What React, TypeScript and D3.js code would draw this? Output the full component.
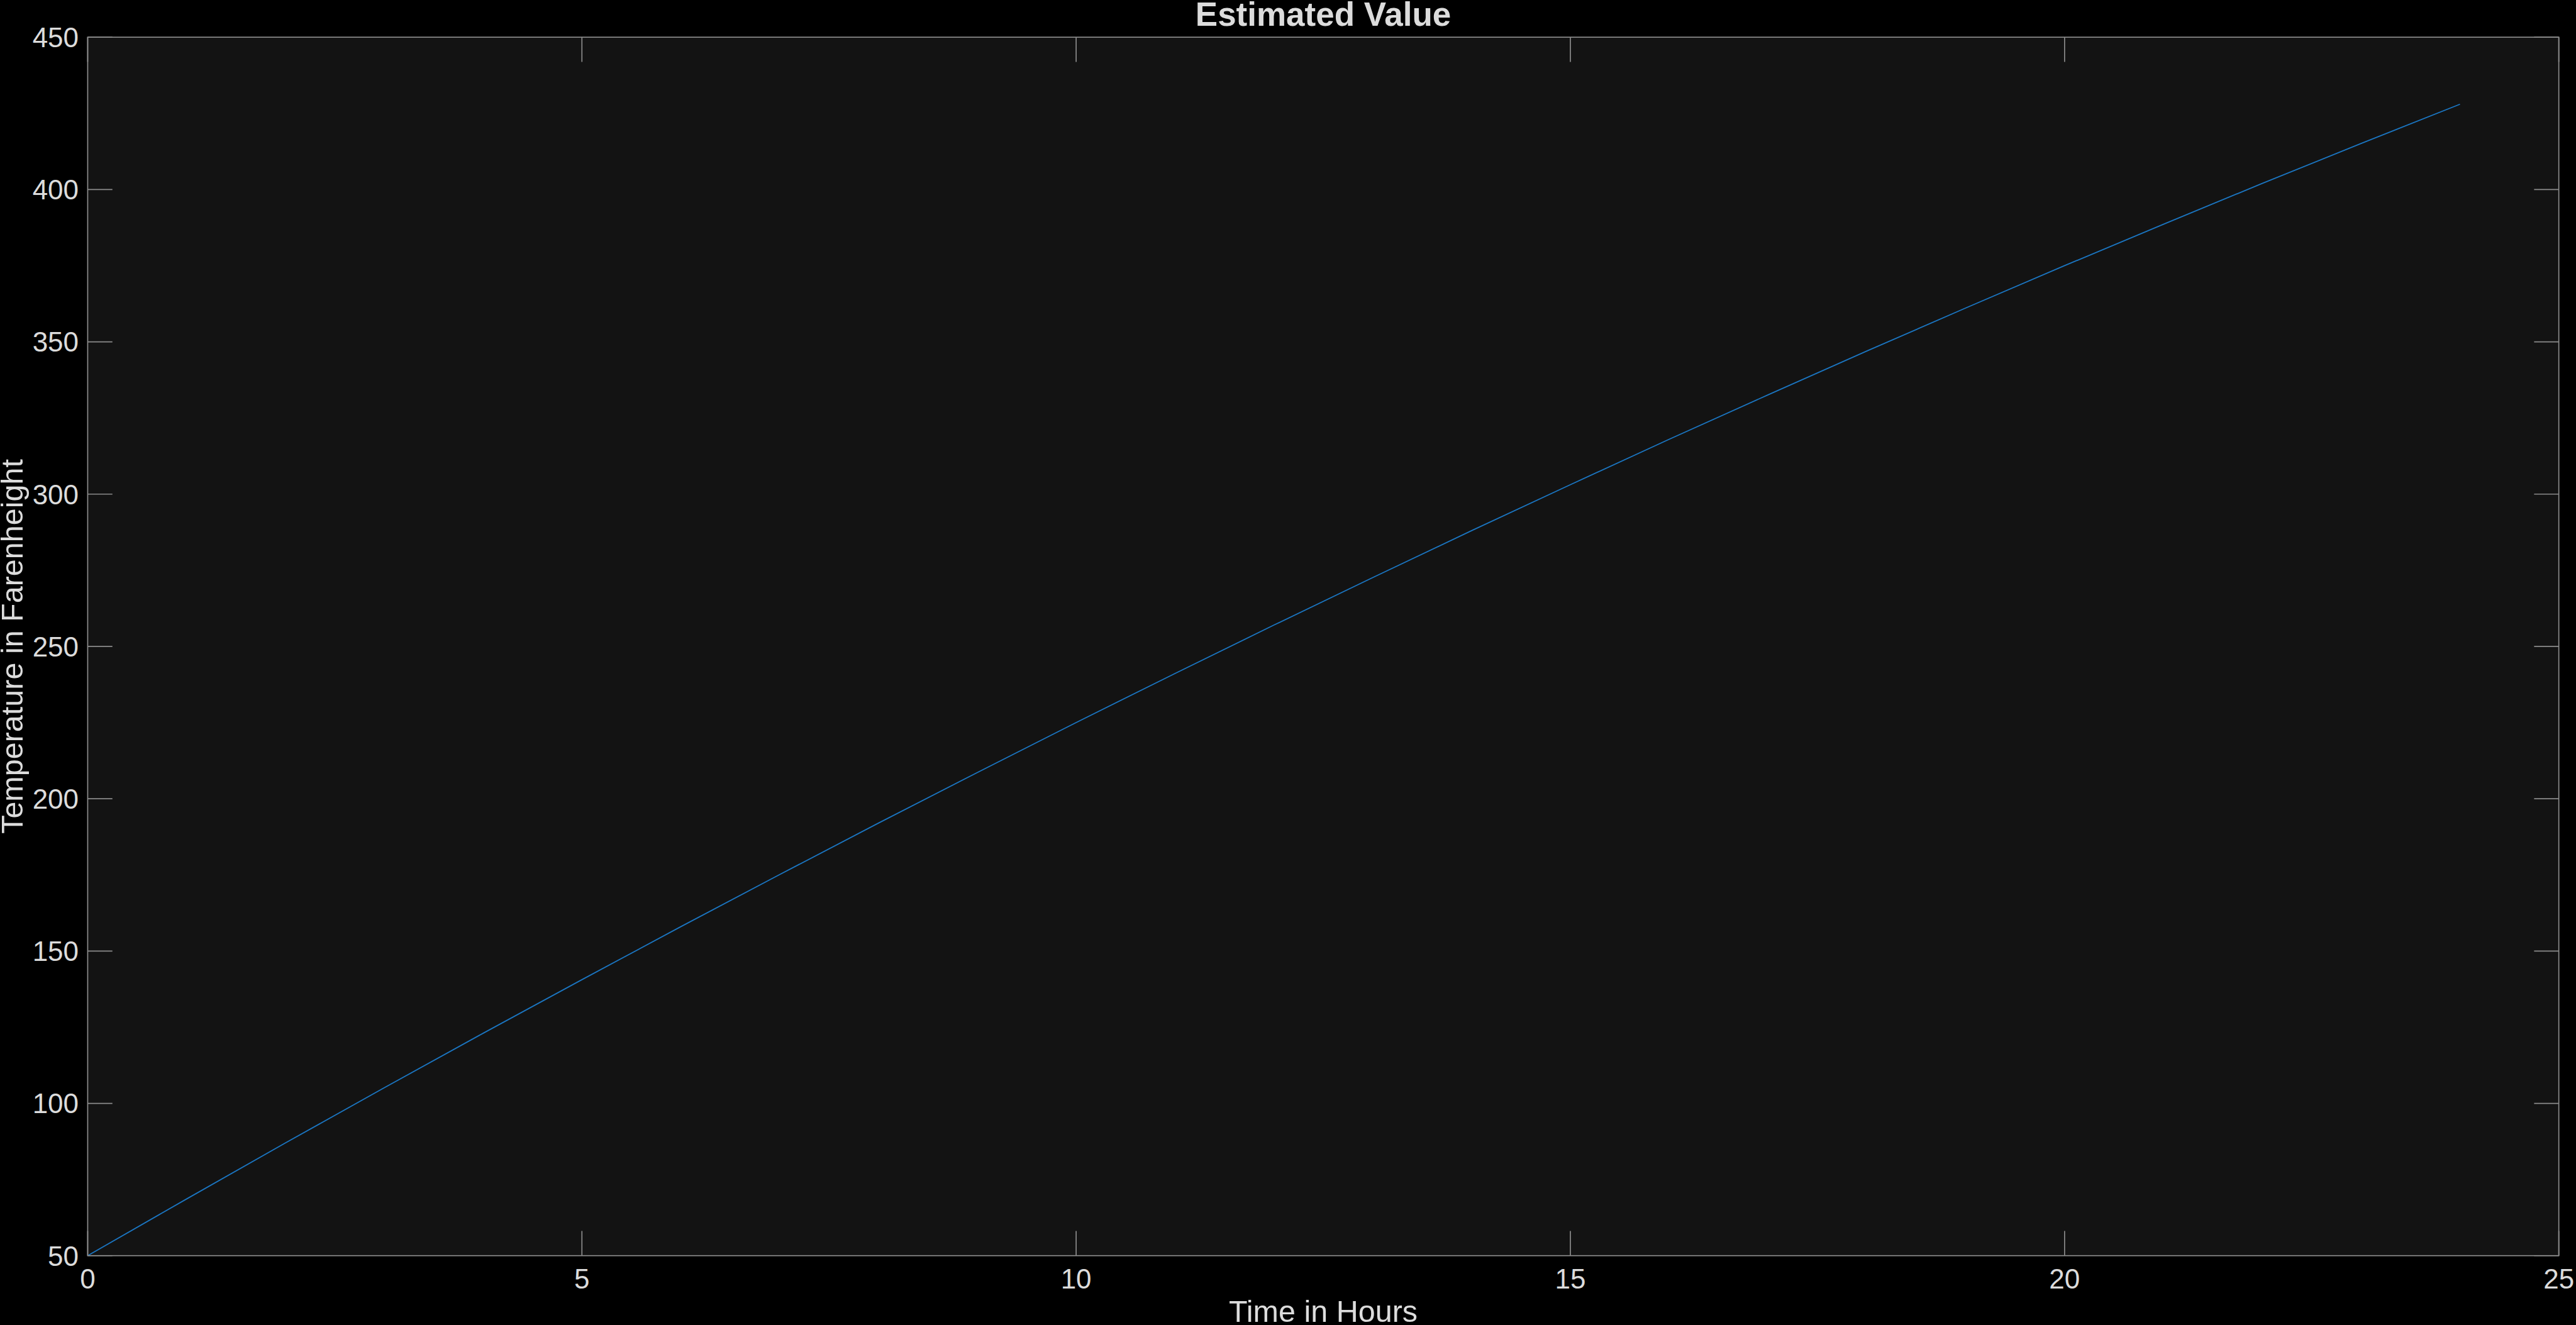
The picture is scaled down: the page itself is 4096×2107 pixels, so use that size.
import * as d3 from "d3";
import { useEffect, useRef } from "react";

// hourly estimate
const hours = [0, 1, 2, 3, 4, 5, 6, 7, 8, 9, 10, 11, 12, 13, 14, 15, 16, 17, 18, 19, 20, 21, 22, 23, 24];
const temps = [
  50, 68.6, 87, 105.1, 123, 140.6, 158, 175.1, 192, 208.6, 225, 241.1, 257, 272.6, 288, 303.1, 318,
  332.6, 347, 361.1, 375, 388.6, 402, 415.1, 428,
];
const xTicks = [0, 5, 10, 15, 20, 25];
const yTicks = [50, 100, 150, 200, 250, 300, 350, 400, 450];

const W = 4096;
const H = 2107;
const S = 0.845;

export default function App() {
  const ref = useRef<SVGSVGElement | null>(null);

  useEffect(() => {
    if (!ref.current) return;
    const svg = d3.select(ref.current);
    svg.selectAll("*").remove();

    const left = 165 * S;
    const right = 4815 * S;
    const top = 70 * S;
    const bottom = 2363 * S;
    const tickLen = 46.5 * S;
    const axisColor = "#8c8c8c";
    const textColor = "#dcdcdc";
    const font = "'Liberation Sans', Arial, sans-serif";

    svg.append("rect").attr("width", W).attr("height", H).attr("fill", "#000000");

    const x = d3.scaleLinear().domain([0, 25]).range([left, right]);
    const y = d3.scaleLinear().domain([50, 450]).range([bottom, top]);

    svg
      .append("rect")
      .attr("x", left)
      .attr("y", top)
      .attr("width", right - left)
      .attr("height", bottom - top)
      .attr("fill", "#131313");

    // ticks, pointing inward on all four sides
    const ticks = svg.append("g").attr("stroke", axisColor).attr("stroke-width", 1.7);
    xTicks.forEach((t) => {
      ticks.append("line").attr("x1", x(t)).attr("x2", x(t)).attr("y1", bottom).attr("y2", bottom - tickLen);
      ticks.append("line").attr("x1", x(t)).attr("x2", x(t)).attr("y1", top).attr("y2", top + tickLen);
    });
    yTicks.forEach((t) => {
      ticks.append("line").attr("x1", left).attr("x2", left + tickLen).attr("y1", y(t)).attr("y2", y(t));
      ticks.append("line").attr("x1", right).attr("x2", right - tickLen).attr("y1", y(t)).attr("y2", y(t));
    });

    const line = d3
      .line<number>()
      .x((_, i) => x(hours[i]))
      .y((d) => y(d));

    svg
      .append("path")
      .datum(temps)
      .attr("d", line)
      .attr("fill", "none")
      .attr("stroke", "#1b76c2")
      .attr("stroke-width", 1.8);

    // box
    svg
      .append("rect")
      .attr("x", left)
      .attr("y", top)
      .attr("width", right - left)
      .attr("height", bottom - top)
      .attr("fill", "none")
      .attr("stroke", axisColor)
      .attr("stroke-width", 1.7);

    const labels = svg.append("g").attr("fill", textColor).attr("font-family", font);

    labels
      .selectAll("text.xt")
      .data(xTicks)
      .enter()
      .append("text")
      .attr("x", (d) => x(d))
      .attr("y", 2425 * S)
      .attr("text-anchor", "middle")
      .attr("font-size", 44)
      .text((d) => d);

    labels
      .selectAll("text.yt")
      .data(yTicks)
      .enter()
      .append("text")
      .attr("x", 148 * S)
      .attr("y", (d) => y(d))
      .attr("dy", "0.36em")
      .attr("text-anchor", "end")
      .attr("font-size", 44)
      .text((d) => d);

    labels
      .append("text")
      .attr("x", (left + right) / 2)
      .attr("y", 48 * S)
      .attr("text-anchor", "middle")
      .attr("font-size", 53)
      .attr("font-weight", "bold")
      .text("Estimated Value");

    labels
      .append("text")
      .attr("x", (left + right) / 2)
      .attr("y", 2488 * S)
      .attr("text-anchor", "middle")
      .attr("font-size", 48.5)
      .text("Time in Hours");

    labels
      .append("text")
      .attr("transform", `translate(${43 * S},${(top + bottom) / 2}) rotate(-90)`)
      .attr("text-anchor", "middle")
      .attr("font-size", 48.5)
      .text("Temperature in Farenheight");
  }, []);

  return (
    <svg
      ref={ref}
      width={W}
      height={H}
      style={{ position: "absolute", left: 0, top: 0, display: "block" }}
    ></svg>
  );
}
